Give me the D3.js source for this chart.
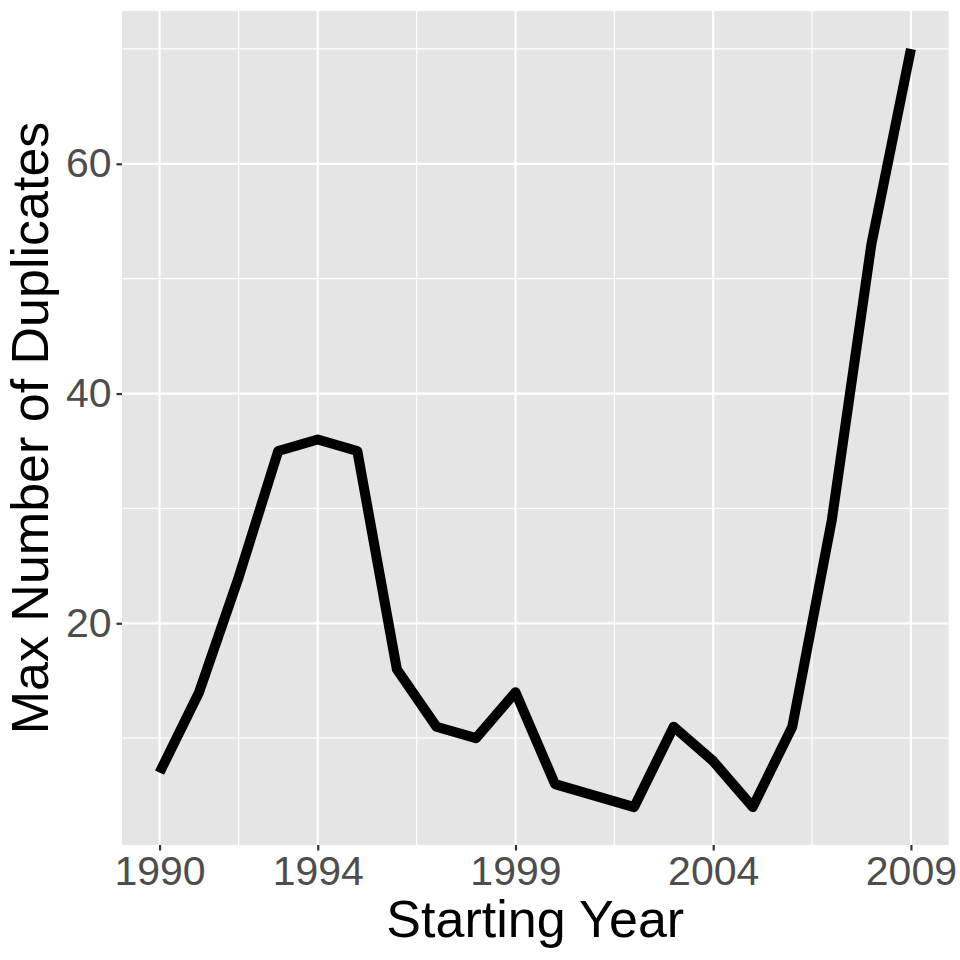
<!DOCTYPE html>
<html>
<head>
<meta charset="utf-8">
<script src="https://cdn.jsdelivr.net/npm/d3@7"></script>
<style>
  html, body { margin: 0; padding: 0; background: #fff; }
  svg { display: block; }
  text { font-family: "Liberation Sans", Arial, Helvetica, sans-serif; }
</style>
</head>
<body>
<svg id="chart" width="960" height="960"></svg>
<script>
const years = [1990,1991,1992,1993,1994,1995,1996,1997,1998,1999,2000,2001,2002,2003,2004,2005,2006,2007,2008,2009];
const maxDuplicates = [7,14,24,35,36,35,16,11,10,14,6,5,4,11,8,4,11,29,53,70];
const xTicks = [1990,1994,1999,2004,2009];
const xMinor = [1992,1996.5,2001.5,2006.5];
const yTicks = [20,40,60];
const yMinor = [10,30,50,70];
const xTitle = "Starting Year";
const yTitle = "Max Number of Duplicates";

const svg = d3.select("#chart");
const W = 960, H = 960;
const panel = {left: 122, right: 948.5, top: 11, bottom: 845};

svg.append("rect").attr("width", W).attr("height", H).attr("fill", "#fff");

const xr = d3.extent(years), xe = (xr[1]-xr[0])*0.05;
const yr = d3.extent(maxDuplicates), ye = (yr[1]-yr[0])*0.05;
const x = d3.scaleLinear().domain([xr[0]-xe, xr[1]+xe]).range([panel.left, panel.right]);
const y = d3.scaleLinear().domain([yr[0]-ye, yr[1]+ye]).range([panel.bottom, panel.top]);

svg.append("rect")
  .attr("x", panel.left).attr("y", panel.top)
  .attr("width", panel.right-panel.left).attr("height", panel.bottom-panel.top)
  .attr("fill", "#E5E5E5");

const g = svg.append("g");
g.selectAll(".xminor").data(xMinor).enter().append("line")
  .attr("x1", d=>x(d)).attr("x2", d=>x(d)).attr("y1", panel.top).attr("y2", panel.bottom)
  .attr("stroke", "#fff").attr("stroke-width", 1.1);
g.selectAll(".yminor").data(yMinor).enter().append("line")
  .attr("y1", d=>y(d)).attr("y2", d=>y(d)).attr("x1", panel.left).attr("x2", panel.right)
  .attr("stroke", "#fff").attr("stroke-width", 1.1);
g.selectAll(".xmajor").data(xTicks).enter().append("line")
  .attr("x1", d=>x(d)).attr("x2", d=>x(d)).attr("y1", panel.top).attr("y2", panel.bottom)
  .attr("stroke", "#fff").attr("stroke-width", 2.2);
g.selectAll(".ymajor").data(yTicks).enter().append("line")
  .attr("y1", d=>y(d)).attr("y2", d=>y(d)).attr("x1", panel.left).attr("x2", panel.right)
  .attr("stroke", "#fff").attr("stroke-width", 2.2);

const line = d3.line().x((d,i)=>x(years[i])).y(d=>y(d));
svg.append("path").datum(maxDuplicates)
  .attr("d", line)
  .attr("fill", "none").attr("stroke", "#000")
  .attr("stroke-width", 10).attr("stroke-linejoin", "round").attr("stroke-linecap", "butt");

const xAxis = d3.axisBottom(x).tickValues(xTicks).tickFormat(d3.format("d")).tickSize(5.5).tickPadding(5);
const gx = svg.append("g").attr("transform", `translate(0,${panel.bottom})`).call(xAxis);
gx.select(".domain").remove();
gx.selectAll(".tick line").attr("stroke", "#333").attr("stroke-width", 2.2);
gx.selectAll(".tick text").attr("fill", "#4D4D4D").attr("font-size", 41).attr("font-family", "Liberation Sans, Arial, sans-serif");

const yAxis = d3.axisLeft(y).tickValues(yTicks).tickSize(5.5).tickPadding(5);
const gy = svg.append("g").attr("transform", `translate(${panel.left},0)`).call(yAxis);
gy.select(".domain").remove();
gy.selectAll(".tick line").attr("stroke", "#333").attr("stroke-width", 2.2);
gy.selectAll(".tick text").attr("fill", "#4D4D4D").attr("font-size", 41).attr("font-family", "Liberation Sans, Arial, sans-serif");

svg.append("text")
  .attr("x", (panel.left+panel.right)/2).attr("y", 937)
  .attr("text-anchor", "middle").attr("font-size", 52).attr("fill", "#000")
  .text(xTitle);
svg.append("text")
  .attr("transform", `translate(48,${(panel.top+panel.bottom)/2}) rotate(-90)`)
  .attr("text-anchor", "middle").attr("font-size", 52).attr("fill", "#000")
  .text(yTitle);
</script>
</body>
</html>
